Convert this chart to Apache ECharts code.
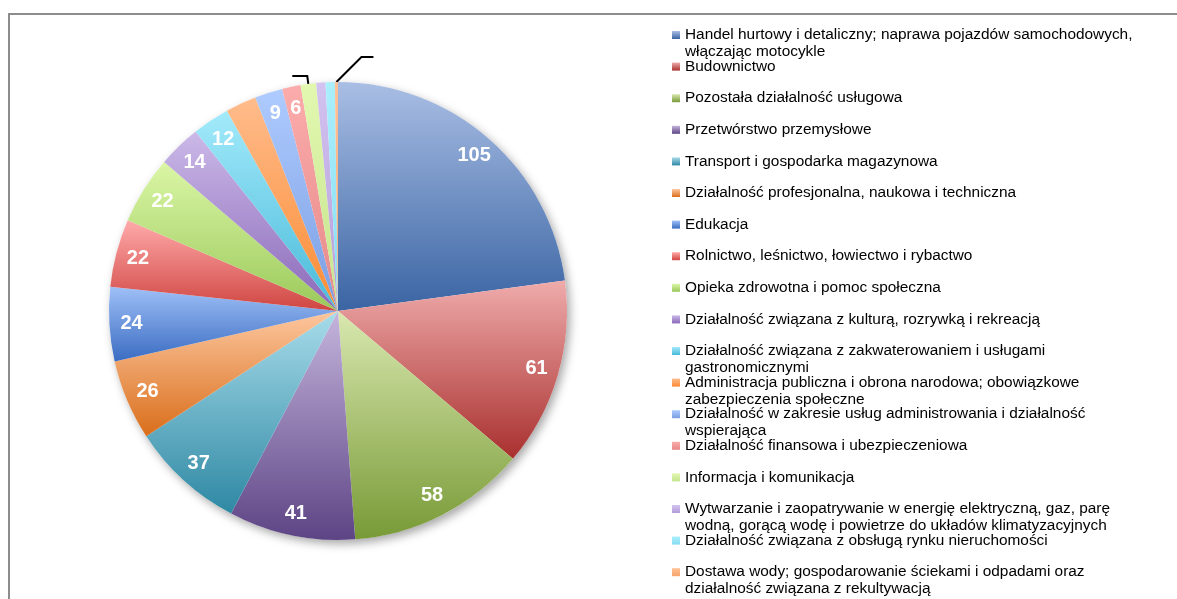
<!DOCTYPE html>
<html>
<head>
<meta charset="utf-8">
<script src="https://cdn.jsdelivr.net/npm/echarts@6/dist/echarts.min.js"></script>
<style>
  html, body { margin: 0; padding: 0; background: #fff; overflow: hidden; }
  #chart { width: 1177px; height: 599px; }
  .frame {
    position: absolute; left: 8px; top: 13px; width: 1200px; height: 620px;
    border-left: 2px solid #8c8c8c; border-top: 2px solid #8c8c8c;
    pointer-events: none;
  }
</style>
</head>
<body>
<div id="chart"></div>
<div class="frame"></div>
<script>
// Firmy wg sekcji PKD — liczba podmiotów

const sectors = [
  'Handel hurtowy i detaliczny; naprawa pojazdów samochodowych, włączając motocykle',
  'Budownictwo',
  'Pozostała działalność usługowa',
  'Przetwórstwo przemysłowe',
  'Transport i gospodarka magazynowa',
  'Działalność profesjonalna, naukowa i techniczna',
  'Edukacja',
  'Rolnictwo, leśnictwo, łowiectwo i rybactwo',
  'Opieka zdrowotna i pomoc społeczna',
  'Działalność związana z kulturą, rozrywką i rekreacją',
  'Działalność związana z zakwaterowaniem i usługami gastronomicznymi',
  'Administracja publiczna i obrona narodowa; obowiązkowe zabezpieczenia społeczne',
  'Działalność w zakresie usług administrowania i działalność wspierająca',
  'Działalność finansowa i ubezpieczeniowa',
  'Informacja i komunikacja',
  'Wytwarzanie i zaopatrywanie w energię elektryczną, gaz, parę wodną, gorącą wodę i powietrze do układów klimatyzacyjnych',
  'Działalność związana z obsługą rynku nieruchomości',
  'Dostawa wody; gospodarowanie ściekami i odpadami oraz działalność związana z rekultywacją',
];
const counts = [105, 61, 58, 41, 37, 26, 24, 22, 22, 14, 12, 10, 9, 6, 5, 3, 3, 1];

// slices whose value label is not printed, and the two with an empty leader line
const hideValueLabel = [11, 14, 15, 16, 17];
const leaderOnly = [14, 17];

const topColors = [
  '#a9bee4', '#efabab', '#d9e8b0', '#c5b5dc', '#a8dcea', '#fdc79f',
  '#9fc0f7', '#ffaaaa', '#dbf6a6', '#cbb9e8', '#a3eafb', '#ffbc8c',
  '#afcbff', '#fcacac', '#e2f8b0', '#d3c3f0', '#aaeffc', '#ffc196',
];
const bottomColors = [
  '#3a64a3', '#a8302e', '#789a36', '#5d4485', '#2e88a3', '#d96e1b',
  '#3a6cc2', '#cf4541', '#9ac95a', '#8a68b8', '#48b9d9', '#fb8b33',
  '#7a9ee2', '#e58888', '#c4e48c', '#b39cd8', '#86dbf2', '#f6a56c',
];

const FONT = '"Liberation Sans", Arial, sans-serif';
const CENTER = [338, 311];
const R = 229;

// legend geometry (Excel keeps a fixed pitch, wrapped lines spill into the gap)
const LEG_SIZE = 15.4;
const LEG_LH = 16.7;
const LEG_FIRST = 35;
const LEG_STEP = 31.6;
const LEG_WRAP = 470;

const measure = document.createElement('canvas').getContext('2d');
measure.font = LEG_SIZE + 'px ' + FONT;

function wrap(text, maxW) {
  const out = [];
  let line = '';
  text.split(' ').forEach(w => {
    const test = line ? line + ' ' + w : w;
    if (line && measure.measureText(test).width > maxW) { out.push(line); line = w; }
    else line = test;
  });
  if (line) out.push(line);
  return out;
}

function grad(i) {
  return new echarts.graphic.LinearGradient(0, 0, 0, 1, [
    { offset: 0, color: topColors[i] },
    { offset: 1, color: bottomColors[i] },
  ]);
}

const legendLines = sectors.map(n => wrap(n, LEG_WRAP));

// one legend per entry: the marker stays on the first text line, as in Excel
const legends = sectors.map((n, i) => {
  const extra = legendLines[i].length - 1;
  const text = '\n'.repeat(extra) + legendLines[i].join('\n');
  return {
    orient: 'vertical',
    left: 672,
    top: LEG_FIRST + i * LEG_STEP - extra * LEG_LH - LEG_LH / 2,
    padding: 0,
    itemWidth: 8, itemHeight: 8, icon: 'rect',
    selectedMode: false,
    data: [n],
    formatter: () => text,
    textStyle: {
      fontFamily: FONT, fontSize: LEG_SIZE, color: '#000', lineHeight: LEG_LH,
    },
  };
});

const chart = echarts.init(document.getElementById('chart'), null, { renderer: 'canvas' });

chart.setOption({
  animation: false,
  backgroundColor: 'transparent',
  legend: legends,
  series: [
    {
      // soft drop shadow under the whole pie
      type: 'pie', name: 'tlo', center: CENTER, radius: R, z: 1,
      silent: true, legendHoverLink: false,
      label: { show: false }, labelLine: { show: false },
      itemStyle: {
        color: '#fff', shadowBlur: 10, shadowColor: 'rgba(0,0,0,0.35)',
        shadowOffsetX: 3, shadowOffsetY: 4,
      },
      data: [{ value: 1, name: 'tlo' }],
    },
    {
      type: 'pie', name: 'Podmioty', center: CENTER, radius: R, z: 2,
      startAngle: 90, clockwise: true, avoidLabelOverlap: false,
      emphasis: { disabled: true },
      data: sectors.map((n, i) => ({
        name: n, value: counts[i],
        itemStyle: { color: grad(i) },
        label: leaderOnly.includes(i)
          ? { show: true, position: 'outside', formatter: ' ' }
          : { show: false },
        labelLine: {
          show: leaderOnly.includes(i), length: 8, length2: 15,
          lineStyle: { color: '#000', width: 2 },
        },
      })),
      labelLayout: (p) => {
        if (p.dataIndex !== 17 || !p.labelLinePoints) return {};
        const s = p.labelLinePoints[0];
        return { labelLinePoints: [s, [s[0] + 25, s[1] - 25], [s[0] + 37, s[1] - 25]] };
      },
    },
    {
      // value labels, placed near the rim
      type: 'pie', name: 'etykiety', center: CENTER, radius: [R * 0.78, R], z: 3,
      silent: true, legendHoverLink: false,
      itemStyle: { color: 'rgba(0,0,0,0)' },
      label: {
        position: 'inside', color: '#fff', fontWeight: 'bold',
        fontSize: 20, fontFamily: FONT, formatter: '{c}',
      },
      labelLine: { show: false },
      data: sectors.map((n, i) => ({
        name: n, value: counts[i],
        label: { show: !hideValueLabel.includes(i) },
      })),
    },
  ],
});
</script>
</body>
</html>
